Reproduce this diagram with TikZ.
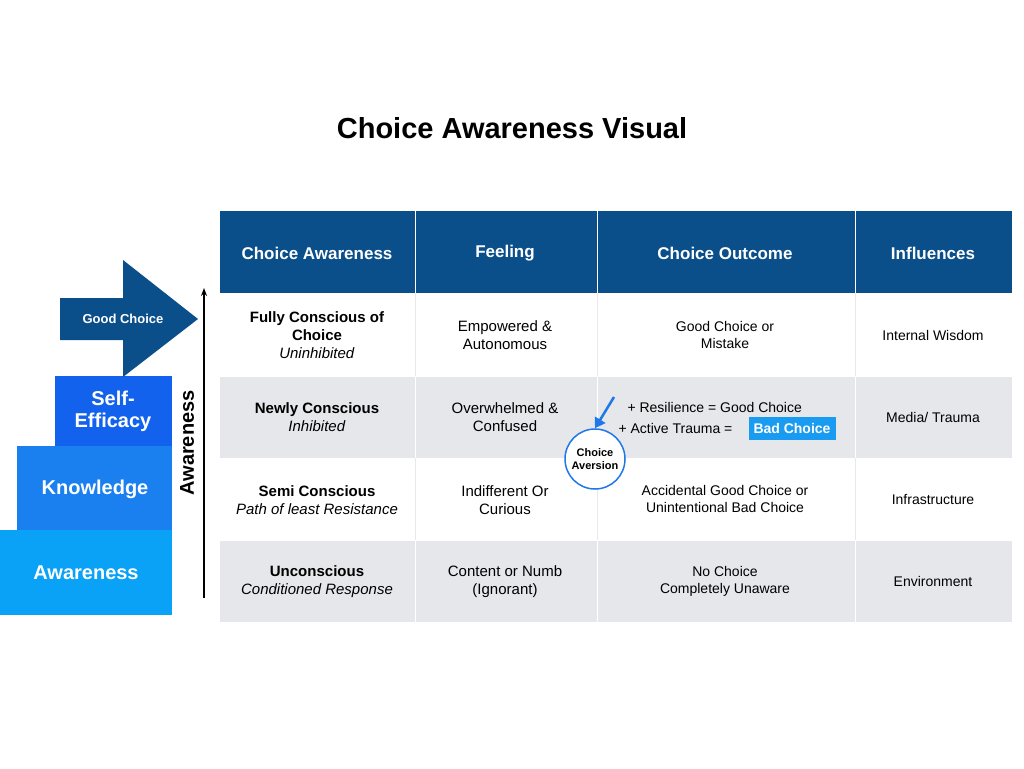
\documentclass[tikz,border=0pt]{standalone}
\usepackage{fontspec}
\setmainfont{Liberation Sans}
\usetikzlibrary{arrows.meta}
\definecolor{hdblue}{HTML}{0B4F8A}
\definecolor{rowgray}{HTML}{E6E7EB}
\definecolor{stepone}{HTML}{0AA2F6}
\definecolor{steptwo}{HTML}{1A80F0}
\definecolor{stepthree}{HTML}{1262EE}
\definecolor{badblue}{HTML}{1A9BF2}
\definecolor{ringblue}{HTML}{1F78E8}
\begin{document}
\begin{tikzpicture}[x=1pt, y=-1pt,
    cell/.style={align=center, font=\fontsize{15}{18}\selectfont},
    small/.style={align=center, font=\fontsize{14}{17}\selectfont},
    head/.style={align=center, text=white, font=\fontsize{17}{20}\selectfont\bfseries},
    stair/.style={text=white, font=\fontsize{20}{22}\selectfont\bfseries, align=center},
  ]
    \useasboundingbox (0,0) rectangle (1024,768);
    \fill[white] (0,0) rectangle (1024,768);

    \node[font=\fontsize{29}{32}\selectfont\bfseries] (title) at (512,128) {Choice Awareness Visual};

    % table
    \fill[hdblue] (220,211) rectangle (1012,293);
    \fill[rowgray] (220,376) rectangle (1012,458);
    \fill[rowgray] (220,540) rectangle (1012,622);
    \foreach \x in {415,597,855} {
      \draw[white, thick] (\x,211) -- (\x,293);
      \draw[rowgray!70!gray!40, thin] (\x,293) -- (\x,376);
      \draw[white, thick] (\x,376) -- (\x,458);
      \draw[rowgray!70!gray!40, thin] (\x,458) -- (\x,540);
      \draw[white, thick] (\x,540) -- (\x,622);
    }
    \draw[white, thick] (220,376) -- (1012,376) (220,540) -- (1012,540);

    \node[head] (h1) at (317,253) {Choice Awareness};
    \node[head] (h2) at (505,253) {Feeling};
    \node[head] (h3) at (725,253) {Choice Outcome};
    \node[head] (h4) at (933,253) {Influences};

    % row 1
    \node[cell] (a1) at (317,335) {\textbf{Fully Conscious of}\\\textbf{Choice}\\\textit{Uninhibited}};
    \node[cell] (f1) at (505,335) {Empowered \&\\Autonomous};
    \node[small] (o1) at (725,335) {Good Choice or\\Mistake};
    \node[small] (i1) at (933,335) {Internal Wisdom};
    % row 2
    \node[cell] (a2) at (317,417) {\textbf{Newly Conscious}\\\textit{Inhibited}};
    \node[cell] (f2) at (505,417) {Overwhelmed \&\\Confused};
    \node[small, anchor=west] (o2a) at (624,407) {+ Resilience = Good Choice};
    \node[small, anchor=west] (o2b) at (615,428) {+ Active Trauma =};
    \node[fill=badblue, text=white, font=\fontsize{14}{17}\selectfont\bfseries,
          inner sep=2pt, minimum width=87pt, minimum height=23pt] (bad) at (792,428) {Bad Choice};
    \node[small] (i2) at (933,417) {Media/ Trauma};
    % row 3
    \node[cell] (a3) at (317,500) {\textbf{Semi Conscious}\\\textit{Path of least Resistance}};
    \node[cell] (f3) at (505,500) {Indifferent Or\\Curious};
    \node[small] (o3) at (725,499) {Accidental Good Choice or\\Unintentional Bad Choice};
    \node[small] (i3) at (933,499) {Infrastructure};
    % row 4
    \node[cell] (a4) at (317,582) {\textbf{Unconscious}\\\textit{Conditioned Response}};
    \node[cell] (f4) at (505,582) {Content or Numb\\(Ignorant)};
    \node[small] (o4) at (725,581) {No Choice\\Completely Unaware};
    \node[small] (i4) at (933,581) {Environment};

    % choice aversion
    \node[circle, draw=ringblue, line width=1.5pt, fill=white, minimum size=60pt, inner sep=0pt,
          align=center, font=\fontsize{11}{13}\selectfont\bfseries] (aversion) at (595,459) {Choice\\Aversion};
    \coordinate (avstart) at (614,397);
    \draw[ringblue, line width=2.5pt, -{Triangle[length=10pt,width=12pt]}] (avstart) -- (aversion.north);

    % steps
    \fill[stepone] (0,530) rectangle (172,615);
    \fill[steptwo] (17,446) rectangle (172,530);
    \fill[stepthree] (55,376) rectangle (172,446);
    \node[stair] (s1) at (86,573) {Awareness};
    \node[stair] (s2) at (95,489) {Knowledge};
    \node[stair] (s3) at (113,411) {Self-\\Efficacy};
    \fill[hdblue] (60,298) -- (123,298) -- (123,260) -- (198,319) -- (123,377) -- (123,340) -- (60,340) -- cycle;
    \node[text=white, font=\fontsize{13}{15}\selectfont\bfseries] (good) at (123,319) {Good Choice};

    % awareness axis
    \coordinate (axbot) at (204,598);
    \coordinate (axtop) at (204,288);
    \draw[line width=1.5pt, -{Stealth[length=8pt]}] (axbot) -- (axtop);
    \node[rotate=90, font=\fontsize{20}{22}\selectfont\bfseries] (axlabel) at (187,443) {Awareness};
\end{tikzpicture}
\end{document}
